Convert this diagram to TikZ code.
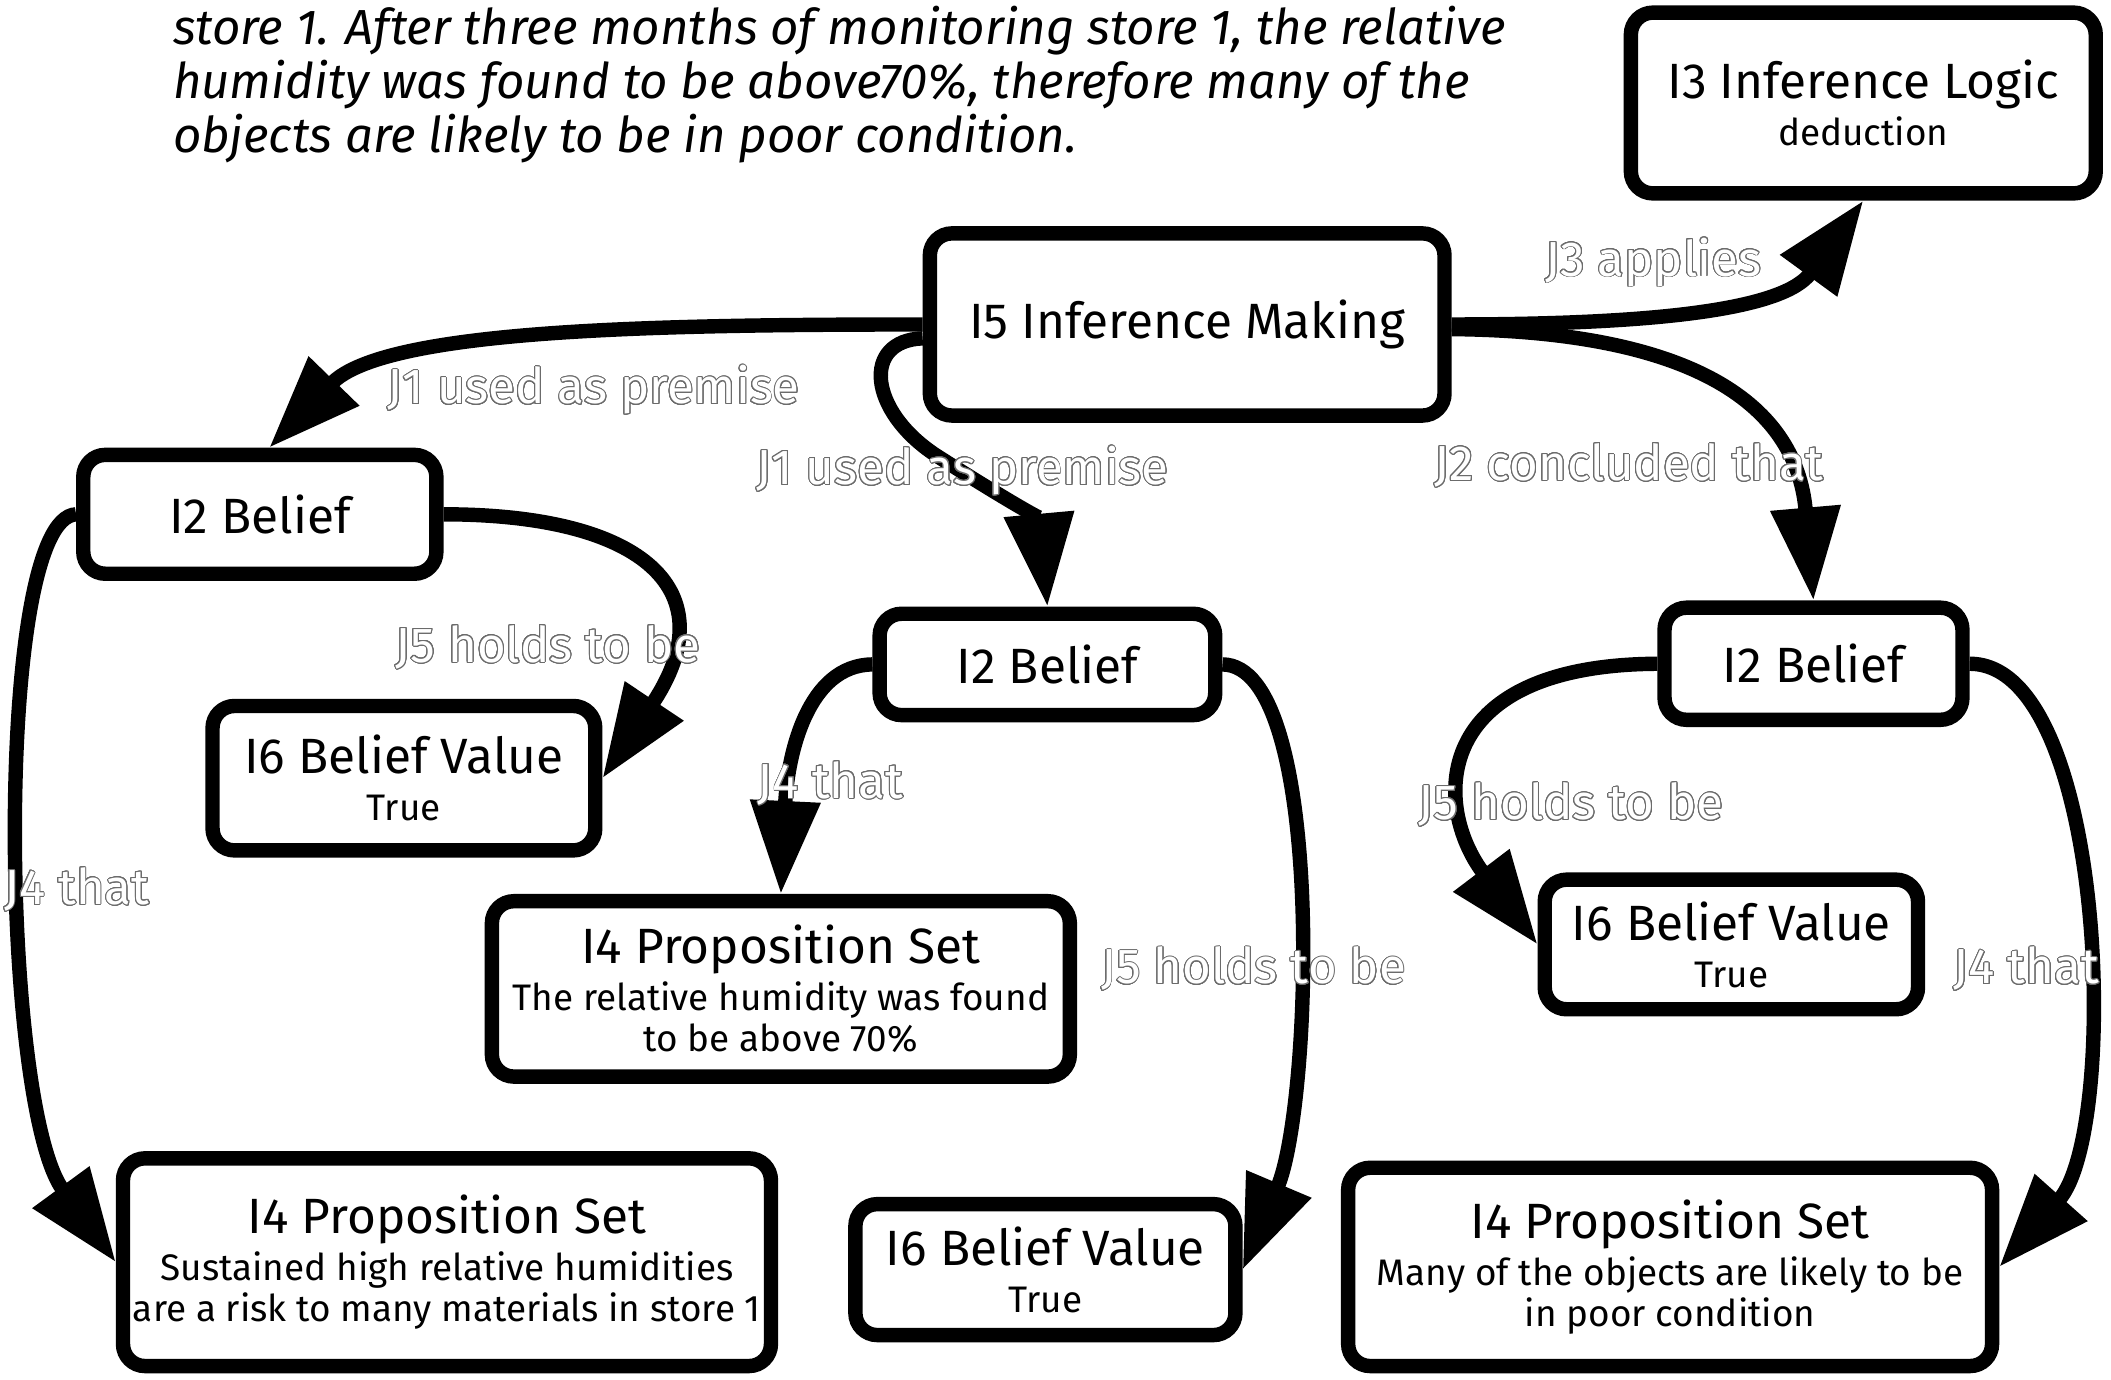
\documentclass[tikz,border=0pt]{standalone}
\usepackage{fontspec}
\setmainfont{Fira Sans}
\usepackage[copies]{contour}
\usetikzlibrary{arrows.meta}
\contourlength{0.28pt}
\contournumber{24}
\definecolor{lblc}{gray}{0.42}
\newcommand\myT{\fontsize{14.1pt}{16pt}\selectfont}
\newcommand\myS{\fontsize{10.5pt}{11.7pt}\selectfont}
\newcommand\myL{\fontsize{14pt}{16pt}\selectfont}
\newcommand\myH{\fontsize{14pt}{16pt}\selectfont\itshape}
\def\u{0.013463cm}
\begin{document}
\begin{tikzpicture}[x=0.013463cm, y=-0.013463cm,
  box/.style={draw, line width=4.1pt, rounded corners=0.22cm, fill=white,
    align=center, inner sep=0pt, font=\myS},
  sz/.style 2 args={minimum width=#1*\u-4.1pt, minimum height=#2*\u-4.1pt},
  edge/.style={line width=4.1pt, -{Triangle[length=0.93cm, width=0.67cm]}},
  lbl/.style={text=white, font=\myL, inner sep=0pt},
  hd/.style={font=\myH, inner sep=0pt, anchor=base west}]
\useasboundingbox (0,0) rectangle (1568,1025);

% title text
\node[hd] (T1) at (128,33) {store 1. After three months of monitoring store 1, the relative};
\node[hd] (T2) at (128,73) {humidity was found to be above70\%, therefore many of the};
\node[hd] (T3) at (128,113) {objects are likely to be in poor condition.};

% nodes
\node[box, sz={356}{145}] (I3) at (1384,76.5) {{\myT I3 Inference Logic}\\[1.7pt]deduction};
\node[box, sz={393}{146}] (I5) at (881.8,241) {{\myT I5 Inference Making}};
\node[box, sz={273}{99}] (I2a) at (193,382) {{\myT I2 Belief}};
\node[box, sz={295}{118}] (I6a) at (300,578) {{\myT I6 Belief Value}\\[1.7pt]True};
\node[box, sz={260}{86}] (I2b) at (778,493.5) {{\myT I2 Belief}};
\node[box, sz={440}{141}] (I4b) at (580,734.5) {{\myT I4 Proposition Set}\\[1.7pt]The relative humidity was found\\to be above 70\%};
\node[box, sz={492}{165}] (I4a) at (332,937.5) {{\myT I4 Proposition Set}\\[1.7pt]Sustained high relative humidities\\are a risk to many materials in store 1};
\node[box, sz={293}{108}] (I6b) at (776.5,943) {{\myT I6 Belief Value}\\[1.7pt]True};
\node[box, sz={232}{94}] (I2c) at (1347,493) {{\myT I2 Belief}};
\node[box, sz={288}{107}] (I6c) at (1286,701.5) {{\myT I6 Belief Value}\\[1.7pt]True};
\node[box, sz={489}{158}] (I4c) at (1240.5,941) {{\myT I4 Proposition Set}\\[1.7pt]Many of the objects are likely to be\\in poor condition};

% connectors
\draw[edge] (I5.west) .. controls (480,241) and (285,245) .. ([xshift=7*\u]I2a.north);
\draw[edge] (I5.183) .. controls (640,253) and (645,305) .. (695,338)
  .. controls (745,370) and (772,385) .. (I2b.north);
\draw[edge] (I5.east) .. controls (1230,241) and (1325,230) .. (I3.south);
\draw[edge] (I5.-1) .. controls (1250,246) and (1334,296) .. (I2c.north);
\draw[edge] (I2a.east) .. controls (480,382) and (540,440) .. (I6a.east);
\draw[edge] (I2a.west) .. controls (-5,385) and (0,820) .. (I4a.west);
\draw[edge] (I2b.west) .. controls (600,494) and (585,560) .. (I4b.north);
\draw[edge] (I2b.east) .. controls (985,494) and (975,820) .. (I6b.east);
\draw[edge] (I2c.west) .. controls (1060,494) and (1065,600) .. (I6c.west);
\draw[edge] (I2c.east) .. controls (1565,493) and (1575,840) .. (I4c.east);

% labels
\node[lbl] (L1) at (441,290) {\contour{lblc}{J1 used as premise}};
\node[lbl] (L2) at (715,350) {\contour{lblc}{J1 used as premise}};
\node[lbl] (L3) at (1228,195) {\contour{lblc}{J3 applies}};
\node[lbl] (L4) at (1210,346) {\contour{lblc}{J2 concluded that}};
\node[lbl] (L5) at (407,481) {\contour{lblc}{J5 holds to be}};
\node[lbl] (L6) at (57,661) {\contour{lblc}{J4 that}};
\node[lbl] (L7) at (617,582) {\contour{lblc}{J4 that}};
\node[lbl] (L8) at (931,720) {\contour{lblc}{J5 holds to be}};
\node[lbl] (L9) at (1167,598) {\contour{lblc}{J5 holds to be}};
\node[lbl] (L10) at (1505,720) {\contour{lblc}{J4 that}};
\end{tikzpicture}
\end{document}
